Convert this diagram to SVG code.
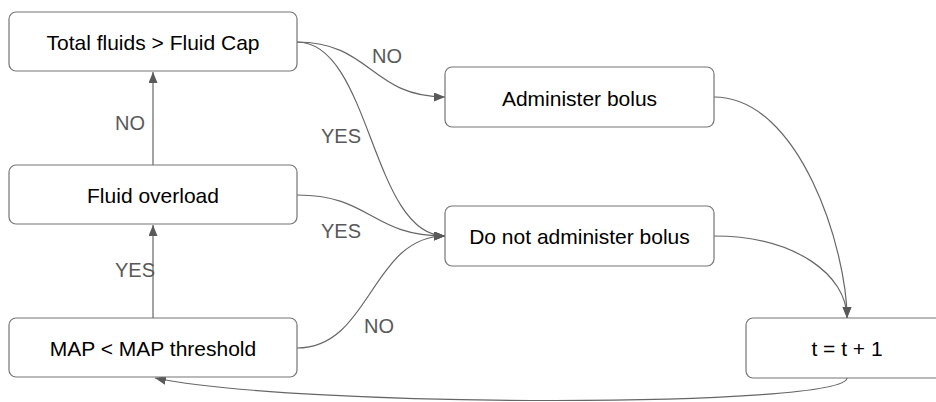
<svg xmlns="http://www.w3.org/2000/svg" width="936" height="402" viewBox="0 0 936 402">
<style>
.box{fill:#fff;stroke:#757575;stroke-width:1.2}
.t{font-family:"Liberation Sans",Arial,sans-serif;font-size:21px;fill:#000;text-anchor:middle}
.lbl{font-family:"Liberation Sans",Arial,sans-serif;font-size:20px;fill:#595959;text-anchor:middle}
.c{fill:none;stroke:#666;stroke-width:1.2}
</style>
<defs>
<marker id="ah" markerUnits="userSpaceOnUse" markerWidth="12" markerHeight="10" refX="11" refY="4.5" orient="auto">
<path d="M0,0 L11,4.5 L0,9 Z" fill="#595959"/>
</marker>
</defs>
<rect width="936" height="402" fill="#fff"/>
<g id="connectors">
<path class="c" d="M153,165 L153,72" marker-end="url(#ah)"/>
<path class="c" d="M153,318 L153,225" marker-end="url(#ah)"/>
<path class="c" d="M297,42 C371,42 371,97 445,97" marker-end="url(#ah)"/>
<path class="c" d="M297,42 C371,42 371,236 445,236" marker-end="url(#ah)"/>
<path class="c" d="M297,195 C371,195 371,236 445,236" marker-end="url(#ah)"/>
<path class="c" d="M297,348 C371,348 371,236 445,236" marker-end="url(#ah)"/>
<path class="c" d="M714,97 C800,97 847,250 847,318" marker-end="url(#ah)"/>
<path class="c" d="M714,236 C795,236 847,275 847,318" marker-end="url(#ah)"/>
<path class="c" d="M847,378 C845,408 300,408 155,378" marker-end="url(#ah)"/>
<text class="lbl" x="387" y="63">NO</text>
<text class="lbl" x="130" y="130">NO</text>
<text class="lbl" x="341" y="143">YES</text>
<text class="lbl" x="341" y="238">YES</text>
<text class="lbl" x="135" y="277">YES</text>
<text class="lbl" x="379" y="333">NO</text>
</g>
<g id="n1"><rect class="box" x="9" y="12" width="288" height="59" rx="7"/><text class="t" x="153" y="50">Total fluids &gt; Fluid Cap</text></g>
<g id="n2"><rect class="box" x="9" y="165" width="288" height="59" rx="7"/><text class="t" x="153" y="203">Fluid overload</text></g>
<g id="n3"><rect class="box" x="9" y="318" width="288" height="59" rx="7"/><text class="t" x="153" y="356">MAP &lt; MAP threshold</text></g>
<g id="n4"><rect class="box" x="445" y="67" width="269" height="60" rx="7"/><text class="t" x="579.5" y="106">Administer bolus</text></g>
<g id="n5"><rect class="box" x="445" y="206" width="269" height="60" rx="7"/><text class="t" x="579.5" y="244">Do not administer bolus</text></g>
<g id="n6"><rect class="box" x="746" y="318" width="202" height="60" rx="7"/><text class="t" x="847" y="356">t = t + 1</text></g>
</svg>
